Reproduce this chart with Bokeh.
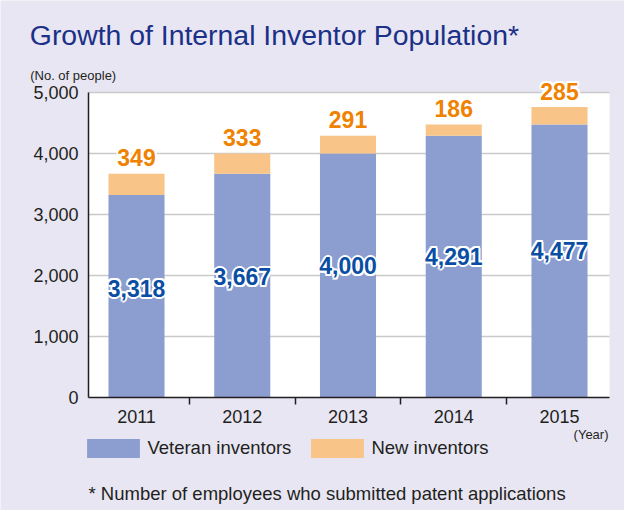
from bokeh.plotting import figure
from bokeh.models import (ColumnDataSource, FixedTicker, Label, Legend, LegendItem,
                          Range1d, BoxAnnotation)
from bokeh.core.properties import value
from bokeh.embed import file_html
from bokeh.resources import INLINE

years = ["2011", "2012", "2013", "2014", "2015"]
veteran = [3318, 3667, 4000, 4291, 4477]
new = [349, 333, 291, 186, 285]
y_ticks = [0, 1000, 2000, 3000, 4000, 5000]

FONT = "Liberation Sans"
BG = "#e8e6f3"
BLUE = "#8b9ecf"
ORANGE = "#f8c487"
INK = "#231f20"

W, H = 624, 510
X_LO, X_HI = 0.546, 5.473      # extent of the white plot area (category units)
Y_LO, Y_HI = 0, 5000

xs = list(range(1, len(years) + 1))
src = ColumnDataSource(dict(
    x=xs,
    vet=veteran,
    new=new,
    total=[v + n for v, n in zip(veteran, new)],
    vet_mid=[v * 0.54 for v in veteran],
    vet_lbl=[f"{v:,}" for v in veteran],
    new_lbl=[f"{n:,}" for n in new],
))

# frame covers the whole canvas; plot area placed by ranges
px_per_x = 105.75
px_per_y = 0.061
x0_px, y0_px = 136, 397       # canvas px of x=1 and y=0 (from top-left)
x_start = 1 - x0_px / px_per_x
x_end = 1 + (W - x0_px) / px_per_x
y_start = -(H - y0_px) / px_per_y
y_end = y0_px / px_per_y

p = figure(width=W, height=H, output_backend="svg", toolbar_location=None,
           x_range=Range1d(x_start, x_end), y_range=Range1d(y_start, y_end),
           min_border=0)
p.background_fill_color = BG
p.border_fill_color = BG
p.outline_line_color = None

p.add_layout(BoxAnnotation(left=X_LO, right=X_HI, bottom=Y_LO, top=Y_HI,
                           fill_color="white", fill_alpha=1, line_color=None,
                           level="image"))

# horizontal grid lines limited to the plot area
grid_y = y_ticks[1:]
p.segment(x0=[X_LO] * len(grid_y), x1=[X_HI] * len(grid_y), y0=grid_y, y1=grid_y,
          line_color="#c9c9c9", line_width=1.5)

vb = p.vbar(x="x", top="vet", bottom=0, width=0.53, source=src, fill_color=BLUE, line_color=None)
nb = p.vbar(x="x", top="total", bottom="vet", width=0.53, source=src, fill_color=ORANGE, line_color=None)

# axes
p.xaxis.fixed_location = Y_LO
p.yaxis.fixed_location = X_LO
p.xaxis.bounds = (X_LO, X_HI)
p.yaxis.bounds = (Y_LO, Y_HI)

p.xaxis.ticker = FixedTicker(ticks=xs, minor_ticks=[x + 0.5 for x in xs[:-1]])
p.xaxis.major_label_overrides = {x: y for x, y in zip(xs, years)}
p.xaxis.major_tick_line_color = None
p.xaxis.major_tick_out = 0
p.xaxis.major_tick_in = 0
p.xaxis.minor_tick_out = 7
p.xaxis.minor_tick_in = 0
p.xaxis.minor_tick_line_color = INK
p.xaxis.minor_tick_line_width = 1.5
p.xaxis.major_label_standoff = 5

p.yaxis.ticker = FixedTicker(ticks=y_ticks)
p.yaxis.major_label_overrides = {t: f"{t:,}" for t in y_ticks}
p.yaxis.major_tick_line_color = None
p.yaxis.major_tick_out = 0
p.yaxis.major_tick_in = 0
p.yaxis.minor_tick_line_color = None
p.yaxis.major_label_standoff = 10

for ax in (p.xaxis[0], p.yaxis[0]):
    ax.axis_line_color = INK
    ax.axis_line_width = 1.5
    ax.major_label_text_font = FONT
    ax.major_label_text_font_size = "18px"
    ax.major_label_text_color = INK

p.xgrid.grid_line_color = None
p.ygrid.grid_line_color = None

# value labels with a white halo
halo = [(2, 0), (-2, 0), (0, 2), (0, -2), (1.5, 1.5), (1.5, -1.5), (-1.5, 1.5), (-1.5, -1.5)]
for col, ycol, color, yoff in (("vet_lbl", "vet_mid", "#0a4ea3", 0),
                               ("new_lbl", "total", "#ef8200", -16)):
    for dx, dy in halo + [(0, 0)]:
        p.text(x="x", y=ycol, text=col, source=src, text_font=value(FONT),
               text_font_style="bold", text_font_size="23px",
               text_color="white" if (dx, dy) != (0, 0) else color,
               text_align="center", text_baseline="middle",
               x_offset=dx, y_offset=yoff + dy)

# legends (screen units from bottom-left of the canvas)
for r, name, lx in ((vb, "Veteran inventors", 80.4), (nb, "New inventors", 304.4)):
    lg = Legend(items=[LegendItem(label=name, renderers=[r])], location=(lx, 50.5),
                orientation="horizontal", padding=0, margin=0, spacing=0,
                glyph_width=66, glyph_height=24, label_standoff=1,
                label_text_font=FONT, label_text_font_size="18.5px",
                label_text_color=INK,
                background_fill_alpha=0, border_line_color=None)
    p.add_layout(lg, "center")

def add_label(text, x, y, size, color=INK, align="left", baseline="middle"):
    p.add_layout(Label(text=text, x=x, y=y, x_units="screen", y_units="screen",
                       text_font=FONT, text_font_size=size, text_color=color,
                       text_align=align, text_baseline=baseline))

add_label("Growth of Internal Inventor Population*", 29.3, 475.5, "28.4px",
          color="#1b3087")
add_label("(No. of people)", 29.7, 435.3, "13px")
add_label("(Year)", 608, 76.3, "13px", align="right")
add_label("* Number of employees who submitted patent applications", 88, 17.3, "18.5px")

open("out.html", "w").write(file_html(p, INLINE))
